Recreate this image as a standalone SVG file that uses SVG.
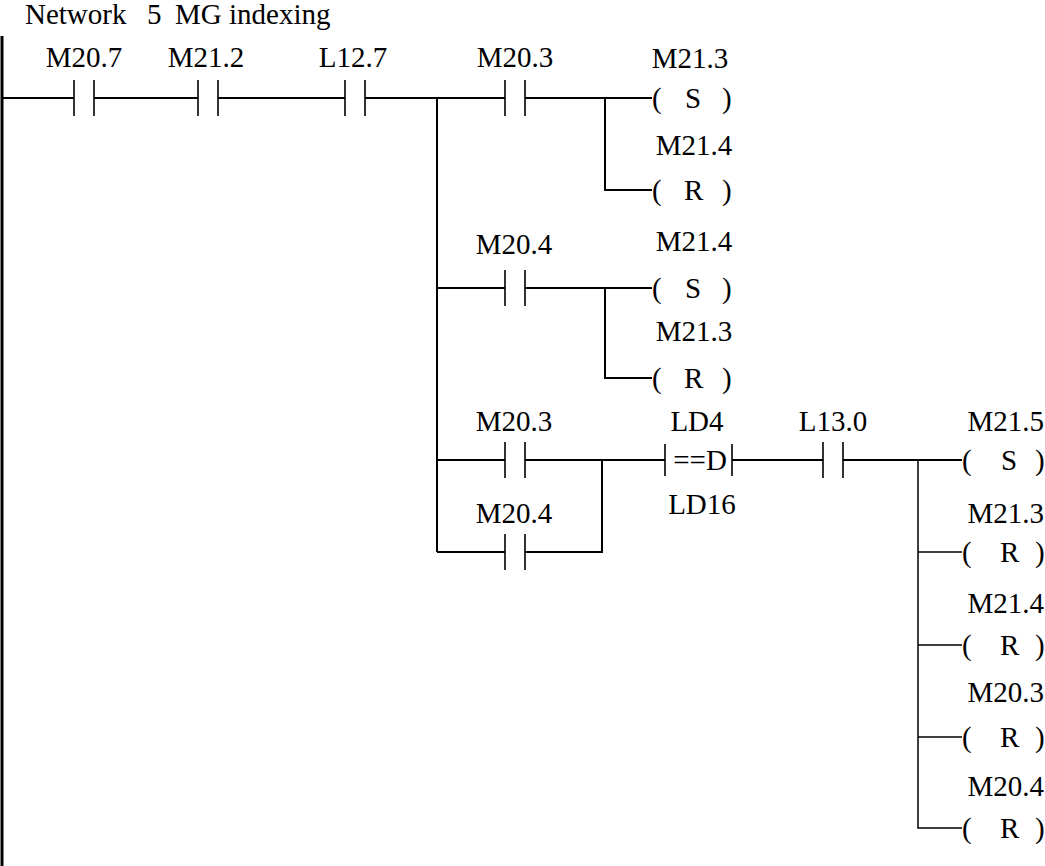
<svg xmlns="http://www.w3.org/2000/svg" width="1045" height="866" viewBox="0 0 1045 866">
<style>
.wire{stroke:#000;stroke-width:2;fill:none}
.thin{stroke:#000;stroke-width:1.5;fill:none}
.bar{stroke:#000;stroke-width:1.6;fill:none}
.node{overflow:visible}
</style>
<rect width="1045" height="866" fill="#fff"/>
<text x="25" y="24" style="font-family:'Liberation Serif',serif;font-size:29px">Network<tspan x="147">5</tspan><tspan x="175">MG indexing</tspan></text>
<svg id="rail" class="node"><line x1="2" y1="36" x2="2" y2="866" stroke="#000" stroke-width="3"/></svg>
<g id="connectors">
<path class="wire" d="M2 98H74M94 98H198M218 98H345M365 98H505M525 98H652"/>
<path class="wire" d="M437 98V552M605 98V190H652"/>
<path class="wire" d="M437 288H505M525 288H652M605 288V378H652"/>
<path class="wire" d="M437 460H505M525 460H665M732 460H823M843 460H962M602 460V552H525M437 552H505"/>
<path class="thin" d="M918 460V828H962M918 552H962M918 645H962M918 737H962"/>
</g>
<svg id="c-m207" class="node"><path class="bar" d="M74 80V116M94 80V116"/><text x="84" y="67" style="font-family:'Liberation Serif',serif;font-size:29px;text-anchor:middle">M20.7</text></svg>
<svg id="c-m212" class="node"><path class="bar" d="M198 80V116M218 80V116"/><text x="206" y="67" style="font-family:'Liberation Serif',serif;font-size:29px;text-anchor:middle">M21.2</text></svg>
<svg id="c-l127" class="node"><path class="bar" d="M345 80V116M365 80V116"/><text x="353" y="67" style="font-family:'Liberation Serif',serif;font-size:29px;text-anchor:middle">L12.7</text></svg>
<svg id="c-m203a" class="node"><path class="bar" d="M505 80V116M525 80V116"/><text x="515" y="67" style="font-family:'Liberation Serif',serif;font-size:29px;text-anchor:middle">M20.3</text></svg>
<svg id="c-m204a" class="node"><path class="bar" d="M505 270V306M525 270V306"/><text x="514" y="254" style="font-family:'Liberation Serif',serif;font-size:29px;text-anchor:middle">M20.4</text></svg>
<svg id="c-m203b" class="node"><path class="bar" d="M505 442V478M525 442V478"/><text x="514" y="431" style="font-family:'Liberation Serif',serif;font-size:29px;text-anchor:middle">M20.3</text></svg>
<svg id="c-m204b" class="node"><path class="bar" d="M505 534V570M525 534V570"/><text x="514" y="523" style="font-family:'Liberation Serif',serif;font-size:29px;text-anchor:middle">M20.4</text></svg>
<svg id="cmp" class="node"><path class="bar" d="M665 444V476M732 444V476"/><text x="700" y="470" style="font-family:'Liberation Serif',serif;font-size:29px;text-anchor:middle">==D</text><text x="697" y="431" style="font-family:'Liberation Serif',serif;font-size:29px;text-anchor:middle">LD4</text><text x="702" y="514" style="font-family:'Liberation Serif',serif;font-size:29px;text-anchor:middle">LD16</text></svg>
<svg id="c-l130" class="node"><path class="bar" d="M823 442V478M843 442V478"/><text x="833" y="431" style="font-family:'Liberation Serif',serif;font-size:29px;text-anchor:middle">L13.0</text></svg>
<svg id="q1" class="node"><text x="690" y="68" style="font-family:'Liberation Serif',serif;font-size:29px;text-anchor:middle">M21.3</text><text x="652" y="108" style="font-family:'Liberation Serif',serif;font-size:29px">(<tspan x="685">S</tspan><tspan x="722">)</tspan></text></svg>
<svg id="q2" class="node"><text x="694" y="155" style="font-family:'Liberation Serif',serif;font-size:29px;text-anchor:middle">M21.4</text><text x="652" y="200" style="font-family:'Liberation Serif',serif;font-size:29px">(<tspan x="684">R</tspan><tspan x="722">)</tspan></text></svg>
<svg id="q3" class="node"><text x="694" y="251" style="font-family:'Liberation Serif',serif;font-size:29px;text-anchor:middle">M21.4</text><text x="652" y="298" style="font-family:'Liberation Serif',serif;font-size:29px">(<tspan x="685">S</tspan><tspan x="722">)</tspan></text></svg>
<svg id="q4" class="node"><text x="694" y="341" style="font-family:'Liberation Serif',serif;font-size:29px;text-anchor:middle">M21.3</text><text x="652" y="388" style="font-family:'Liberation Serif',serif;font-size:29px">(<tspan x="684">R</tspan><tspan x="722">)</tspan></text></svg>
<svg id="q5" class="node"><text x="1044" y="431" style="font-family:'Liberation Serif',serif;font-size:29px;text-anchor:end">M21.5</text><text x="962" y="470" style="font-family:'Liberation Serif',serif;font-size:29px">(<tspan x="1001">S</tspan><tspan x="1035">)</tspan></text></svg>
<svg id="q6" class="node"><text x="1044" y="523" style="font-family:'Liberation Serif',serif;font-size:29px;text-anchor:end">M21.3</text><text x="962" y="562" style="font-family:'Liberation Serif',serif;font-size:29px">(<tspan x="1000">R</tspan><tspan x="1035">)</tspan></text></svg>
<svg id="q7" class="node"><text x="1044" y="613" style="font-family:'Liberation Serif',serif;font-size:29px;text-anchor:end">M21.4</text><text x="962" y="655" style="font-family:'Liberation Serif',serif;font-size:29px">(<tspan x="1000">R</tspan><tspan x="1035">)</tspan></text></svg>
<svg id="q8" class="node"><text x="1044" y="702" style="font-family:'Liberation Serif',serif;font-size:29px;text-anchor:end">M20.3</text><text x="962" y="747" style="font-family:'Liberation Serif',serif;font-size:29px">(<tspan x="1000">R</tspan><tspan x="1035">)</tspan></text></svg>
<svg id="q9" class="node"><text x="1044" y="796" style="font-family:'Liberation Serif',serif;font-size:29px;text-anchor:end">M20.4</text><text x="962" y="838" style="font-family:'Liberation Serif',serif;font-size:29px">(<tspan x="1000">R</tspan><tspan x="1035">)</tspan></text></svg>
</svg>
